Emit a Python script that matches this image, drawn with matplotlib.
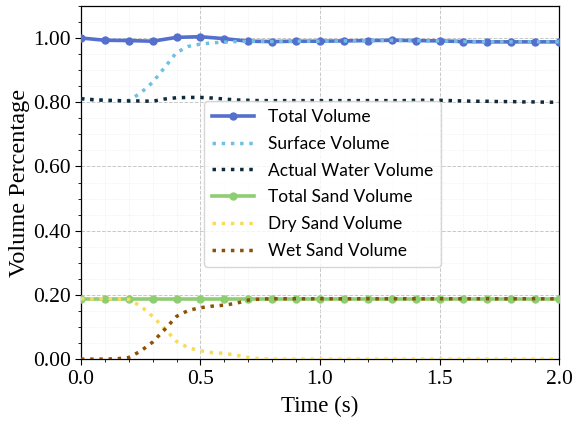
import matplotlib
matplotlib.use("Agg")
import matplotlib.pyplot as plt
import numpy as np
from matplotlib.ticker import MultipleLocator, FormatStrFormatter

# coarse time grid (markers)
t = [round(0.1 * i, 2) for i in range(21)]
total_volume = [1.000, 0.993, 0.992, 0.990, 1.002, 1.004, 0.998, 0.990, 0.989, 0.990,
                0.990, 0.991, 0.992, 0.993, 0.992, 0.991, 0.989, 0.988, 0.988, 0.988, 0.988]
total_sand = [0.187] * 21

# fine time grid (dotted series)
t_fine = [round(0.05 * i, 2) for i in range(41)]
surface_volume = [0.811, 0.808, 0.806, 0.805, 0.805, 0.829, 0.862, 0.908, 0.955, 0.974,
                  0.981, 0.985, 0.987, 0.989, 0.990, 0.990, 0.989, 0.989, 0.990, 0.990,
                  0.990, 0.990, 0.991, 0.991, 0.992, 0.992, 0.993, 0.992, 0.992, 0.991,
                  0.991, 0.990, 0.989, 0.988, 0.988, 0.988, 0.988, 0.988, 0.988, 0.988, 0.988]
actual_water = [0.811, 0.808, 0.806, 0.805, 0.804, 0.804, 0.803, 0.810, 0.814, 0.815,
                0.815, 0.813, 0.810, 0.807, 0.806, 0.805, 0.805, 0.805, 0.805, 0.805,
                0.805, 0.805, 0.805, 0.805, 0.805, 0.805, 0.805, 0.805, 0.806, 0.806,
                0.806, 0.805, 0.804, 0.803, 0.803, 0.802, 0.802, 0.801, 0.801, 0.800, 0.800]
dry_sand = [0.188, 0.188, 0.188, 0.188, 0.186, 0.165, 0.133, 0.095, 0.055, 0.035,
            0.026, 0.020, 0.018, 0.012, 0.005, 0.001] + [0.0] * 25
wet_sand = [0.0, 0.0, 0.0, 0.001, 0.005, 0.025, 0.053, 0.092, 0.133, 0.152,
            0.160, 0.165, 0.168, 0.174, 0.184, 0.187] + [0.188] * 25

fig = plt.figure(figsize=(5.74, 4.21), dpi=100)
ax = fig.add_axes([0.141, 0.147, 0.833, 0.839])

serif = "Liberation Serif"

ax.plot(t, total_volume, color="#5470cc", lw=2.6, marker="o", ms=5, label="Total Volume", zorder=3)
ax.plot(t_fine, surface_volume, color="#70c0e4", lw=2.5, ls=":", label="Surface Volume", zorder=4)
ax.plot(t_fine, actual_water, color="#0f2a3a", lw=2.5, ls=":", label="Actual Water Volume", zorder=4)
ax.plot(t, total_sand, color="#8fcd72", lw=2.6, marker="o", ms=5, label="Total Sand Volume", zorder=3)
ax.plot(t_fine, dry_sand, color="#f7dc5a", lw=2.5, ls=":", label="Dry Sand Volume", zorder=4)
ax.plot(t_fine, wet_sand, color="#8a5206", lw=2.5, ls=":", label="Wet Sand Volume", zorder=4)

ax.set_xlim(0, 2.0)
ax.set_ylim(0, 1.1)
ax.xaxis.set_major_locator(MultipleLocator(0.5))
ax.xaxis.set_minor_locator(MultipleLocator(0.1))
ax.yaxis.set_major_locator(MultipleLocator(0.2))
ax.yaxis.set_minor_locator(MultipleLocator(0.05))
ax.xaxis.set_major_formatter(FormatStrFormatter("%.1f"))
ax.yaxis.set_major_formatter(FormatStrFormatter("%.2f"))

ax.grid(which="major", color="#c8c8c8", ls="--", lw=0.7)
ax.grid(which="minor", color="#ececec", ls=":", lw=0.6)
ax.set_axisbelow(True)

ax.tick_params(which="major", direction="out", length=4, width=0.8, labelsize=15.5)
ax.tick_params(which="minor", direction="out", length=2, width=0.6)
for lab in ax.get_xticklabels() + ax.get_yticklabels():
    lab.set_fontfamily(serif)

ax.set_xlabel("Time (s)", fontsize=16.5, family=serif, labelpad=5)
ax.set_ylabel("Volume Percentage", fontsize=17.5, family=serif, labelpad=2)

for sp in ax.spines.values():
    sp.set_color("black")
    sp.set_linewidth(0.9)

leg = ax.legend(loc="center", bbox_to_anchor=(0.505, 0.496), prop={"family": "Lato", "size": 12.5},
                handlelength=2.4, framealpha=0.8, labelspacing=0.62, borderpad=0.45)
leg.get_frame().set_edgecolor("#cccccc")

fig.savefig("out.png", dpi=100)
